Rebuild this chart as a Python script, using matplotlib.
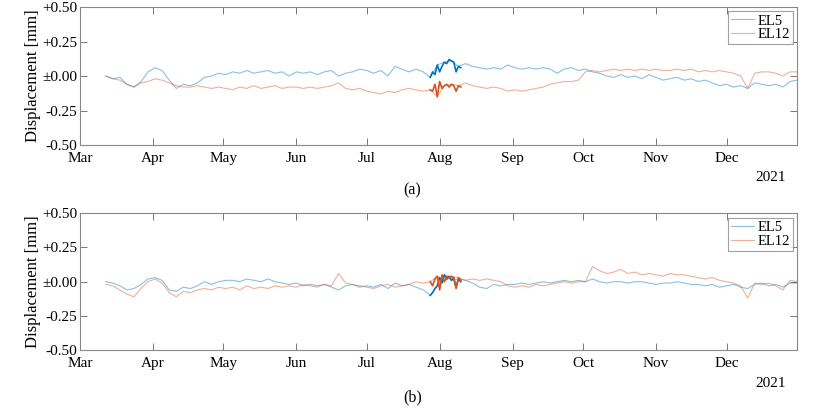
import numpy as np
import pandas as pd
import matplotlib
matplotlib.use('Agg')
import matplotlib.pyplot as plt
import matplotlib.dates as mdates

plt.rcParams['font.family'] = ['Liberation Serif', 'DejaVu Serif']

# 3-day sampled displacement [mm], 12 Mar - 31 Dec 2021
dates = pd.date_range('2021-03-12', periods=99, freq='3D')
hl_dates = pd.date_range('2021-07-28', '2021-08-10')

a_el5 = [0.00, -0.02, -0.01, -0.06, -0.08, -0.04, 0.03, 0.06, 0.04, -0.03,
         -0.09, -0.06, -0.07, -0.05, -0.01, 0.00, 0.02, 0.01, 0.03, 0.02,
         0.04, 0.02, 0.03, 0.04, 0.02, 0.03, 0.00, 0.03, 0.02, 0.03,
         0.01, 0.03, 0.04, 0.00, 0.02, 0.03, 0.05, 0.04, 0.02, 0.04,
         0.00, 0.07, 0.05, 0.03, 0.05, 0.03, -0.01, 0.08, 0.10, 0.11,
         0.07, 0.09, 0.07, 0.06, 0.05, 0.06, 0.05, 0.08, 0.06, 0.05,
         0.06, 0.05, 0.06, 0.05, 0.02, 0.05, 0.06, 0.04, 0.05, 0.03,
         0.02, 0.00, -0.01, 0.01, -0.01, 0.00, -0.02, 0.01, -0.01, -0.03,
         -0.02, -0.01, -0.03, -0.02, -0.04, -0.03, -0.05, -0.07, -0.06, -0.08,
         -0.07, -0.09, -0.05, -0.06, -0.07, -0.06, -0.08, -0.04, -0.03]
a_el12 = [0.00, -0.02, -0.03, -0.06, -0.08, -0.05, -0.04, -0.02, -0.03, -0.05,
          -0.07, -0.08, -0.08, -0.07, -0.08, -0.09, -0.08, -0.09, -0.10, -0.08,
          -0.09, -0.07, -0.09, -0.08, -0.07, -0.09, -0.08, -0.08, -0.09, -0.08,
          -0.09, -0.08, -0.07, -0.05, -0.09, -0.10, -0.09, -0.11, -0.12, -0.13,
          -0.11, -0.12, -0.10, -0.09, -0.10, -0.11, -0.10, -0.15, -0.07, -0.06,
          -0.07, -0.05, -0.07, -0.08, -0.09, -0.08, -0.09, -0.11, -0.10, -0.11,
          -0.10, -0.09, -0.08, -0.06, -0.05, -0.04, -0.04, -0.03, 0.03, 0.04,
          0.03, 0.04, 0.05, 0.04, 0.05, 0.04, 0.05, 0.04, 0.05, 0.04,
          0.04, 0.05, 0.04, 0.05, 0.03, 0.04, 0.03, 0.04, 0.03, 0.02,
          0.00, -0.09, 0.02, 0.03, 0.03, 0.02, 0.00, 0.03, 0.03]
b_el5 = [0.00, -0.01, -0.03, -0.06, -0.05, -0.02, 0.02, 0.03, 0.01, -0.06,
         -0.07, -0.04, -0.05, -0.03, 0.00, -0.02, 0.00, 0.01, 0.01, 0.00,
         0.02, 0.01, 0.00, 0.02, 0.00, -0.01, -0.02, -0.01, -0.03, -0.02,
         -0.03, -0.02, -0.04, -0.06, -0.03, -0.02, -0.04, -0.03, -0.04, -0.02,
         -0.05, -0.01, -0.03, -0.02, -0.04, -0.06, -0.10, -0.03, 0.05, 0.01,
         0.02, 0.01, -0.01, -0.04, -0.05, -0.02, -0.03, -0.02, -0.02, -0.01,
         -0.02, -0.01, 0.00, -0.01, 0.00, 0.01, 0.00, 0.01, 0.00, 0.02,
         0.00, -0.01, 0.00, 0.00, -0.01, 0.00, 0.00, -0.01, -0.02, -0.01,
         -0.01, 0.00, -0.01, -0.02, -0.02, -0.03, -0.02, -0.04, -0.03, -0.02,
         -0.04, -0.05, -0.02, -0.01, -0.03, -0.02, -0.04, -0.01, -0.01]
b_el12 = [-0.02, -0.03, -0.06, -0.09, -0.11, -0.05, 0.00, 0.02, -0.01, -0.08,
          -0.11, -0.07, -0.08, -0.06, -0.05, -0.06, -0.04, -0.05, -0.04, -0.06,
          -0.03, -0.05, -0.04, -0.05, -0.03, -0.04, -0.03, -0.04, -0.02, -0.03,
          -0.04, -0.02, -0.03, 0.06, -0.01, -0.02, -0.03, -0.04, -0.05, -0.03,
          -0.02, -0.04, -0.03, -0.02, 0.00, -0.01, 0.00, 0.04, 0.00, 0.04,
          0.03, 0.01, 0.02, 0.01, 0.02, 0.01, 0.00, -0.03, -0.04, -0.03,
          -0.04, -0.02, -0.03, -0.02, -0.01, 0.00, -0.01, 0.00, 0.00, 0.11,
          0.08, 0.06, 0.07, 0.09, 0.06, 0.07, 0.05, 0.06, 0.05, 0.04,
          0.06, 0.05, 0.05, 0.04, 0.03, 0.02, 0.03, 0.01, 0.00, -0.01,
          -0.03, -0.12, -0.01, -0.02, -0.01, -0.03, -0.06, 0.01, 0.00]

# daily values in the highlighted window
a_el5_hl = [-0.01, 0.03, 0.01, 0.08, 0.03, 0.07, 0.10, 0.09, 0.12, 0.11, 0.10, 0.03, 0.07, 0.06]
a_el12_hl = [-0.10, -0.11, -0.06, -0.15, -0.04, -0.09, -0.07, -0.06, -0.08, -0.06, -0.07, -0.11, -0.07, -0.08]
b_el5_hl = [-0.10, -0.08, -0.05, -0.03, 0.03, -0.01, 0.05, 0.02, 0.04, 0.01, 0.03, -0.04, 0.02, 0.00]
b_el12_hl = [0.00, -0.03, 0.02, 0.04, -0.06, 0.05, 0.00, 0.04, 0.03, 0.04, 0.02, -0.05, 0.03, 0.01]

yticks = [-0.5, -0.25, 0.0, 0.25, 0.5]
ytick_labels = ['-0.50', '-0.25', '±0.00', '+0.25', '+0.50']

c_blue = '#0072BD'
c_orange = '#D95319'

fig = plt.figure(figsize=(8.15, 4.12), dpi=100)
ax_a = fig.add_axes([0.098, 0.648, 0.880, 0.335])
ax_b = fig.add_axes([0.098, 0.150, 0.880, 0.3325])

panels = [(ax_a, a_el5, a_el12, a_el5_hl, a_el12_hl, '(a)', 0.539, 0.568),
          (ax_b, b_el5, b_el12, b_el5_hl, b_el12_hl, '(b)', 0.036, 0.070)]

for ax, el5, el12, el5_hl, el12_hl, tag, tag_y, year_y in panels:
    ax.plot(dates, el5, color=c_blue, alpha=0.45, lw=0.8, label='EL5')
    ax.plot(dates, el12, color=c_orange, alpha=0.45, lw=0.8, label='EL12')
    ax.plot(hl_dates, el5_hl, color=c_blue, lw=1.2)
    ax.plot(hl_dates, el12_hl, color=c_orange, lw=1.2)

    ax.set_xlim(pd.Timestamp('2021-03-01'), pd.Timestamp('2021-12-31'))
    ax.set_ylim(-0.5, 0.5)
    ax.set_yticks(yticks)
    ax.set_yticklabels(ytick_labels)
    ax.xaxis.set_major_locator(mdates.MonthLocator())
    ax.xaxis.set_major_formatter(mdates.DateFormatter('%b'))
    ax.tick_params(direction='in', length=5, width=0.7, color='#777777',
                   top=True, right=True, labelsize=11, pad=2)
    ax.tick_params(axis='x', pad=5)
    for s in ax.spines.values():
        s.set_color('#888888')
        s.set_linewidth(0.8)
    ax.set_ylabel('Displacement [mm]', fontsize=12, labelpad=1)

    leg = ax.legend(loc='upper right', fontsize=10.5, handlelength=1.6,
                    frameon=True, fancybox=False, borderpad=0.2,
                    handletextpad=0.2, labelspacing=0.05, borderaxespad=0.3)
    leg.get_frame().set_edgecolor('#888888')
    leg.get_frame().set_linewidth(0.8)

    fig.text(0.946, year_y, '2021', fontsize=11, ha='center', va='center')
    fig.text(0.506, tag_y, tag, fontsize=11.5, ha='center', va='center')

plt.savefig('out.png', dpi=100)
